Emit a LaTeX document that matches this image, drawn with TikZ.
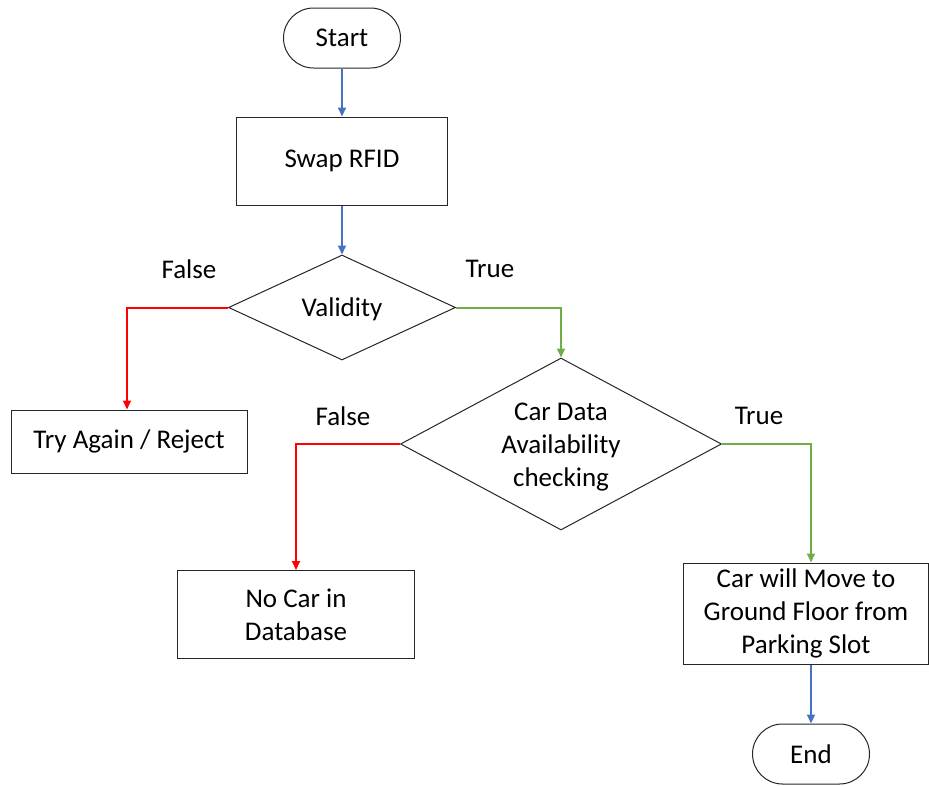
\documentclass[tikz,border=0pt]{standalone}
\usepackage{fontspec}
\setmainfont{Carlito}
\usetikzlibrary{shapes.geometric,arrows.meta}
\definecolor{flowblue}{RGB}{68,114,196}
\definecolor{flowgreen}{RGB}{112,173,71}
\definecolor{flowred}{RGB}{255,0,0}
\tikzset{
  txt/.style={font=\fontsize{27}{33}\selectfont, align=center, inner sep=0pt},
  term/.style={txt, draw=black!85, line width=1pt, rounded corners=30pt, minimum width=117pt, minimum height=60pt},
  proc/.style={txt, draw=black!85, line width=1pt},
  dec/.style={diamond, draw=black!85, line width=1pt, inner sep=0pt},
  conn/.style={line width=2pt, -{Triangle[length=9pt,width=8pt]}},
}
\begin{document}
\begin{tikzpicture}[x=1pt,y=-1pt]
\useasboundingbox (0,0) rectangle (929,785);
\node[term] (start) at (342,38) {Start};
\node[proc, minimum width=211pt, minimum height=88pt] (swap) at (342,161) {Swap RFID};
\node[dec, minimum width=227pt, minimum height=105pt] (val) at (342,307.5) {};
\node[txt] (valt) at ([yshift=-2pt]val.center) {Validity};
\node[proc, minimum width=236pt, minimum height=63pt] (try) at (129,441.5) {Try Again / Reject};
\node[dec, minimum width=321pt, minimum height=172pt] (car) at (561,444) {};
\node[txt] (cart) at ([yshift=-3pt]car.center) {Car Data\\Availability\\checking};
\node[proc, minimum width=237pt, minimum height=88pt] (nocar) at (296,614.5) {No Car in\\Database};
\node[proc, minimum width=245pt, minimum height=101pt] (move) at (806,613.5) {Car will Move to\\Ground Floor from\\Parking Slot};
\node[term] (end) at (811,754) {End};
\node[txt] (f1) at (189,269) {False};
\node[txt] (t1) at (490,269) {True};
\node[txt] (f2) at (343,416) {False};
\node[txt] (t2) at (759,416) {True};
\draw[conn, flowblue] (start) -- (swap);
\draw[conn, flowblue] (swap) -- (val);
\draw[conn, flowred] (val.west) -| ([xshift=-2pt]try.north);
\draw[conn, flowgreen] (val.east) -| (car.north);
\draw[conn, flowred] (car.west) -| (nocar.north);
\draw[conn, flowgreen] (car.east) -| ([xshift=5pt]move.north);
\draw[conn, flowblue] ([xshift=5pt]move.south) -- (end.north);
\end{tikzpicture}
\end{document}
